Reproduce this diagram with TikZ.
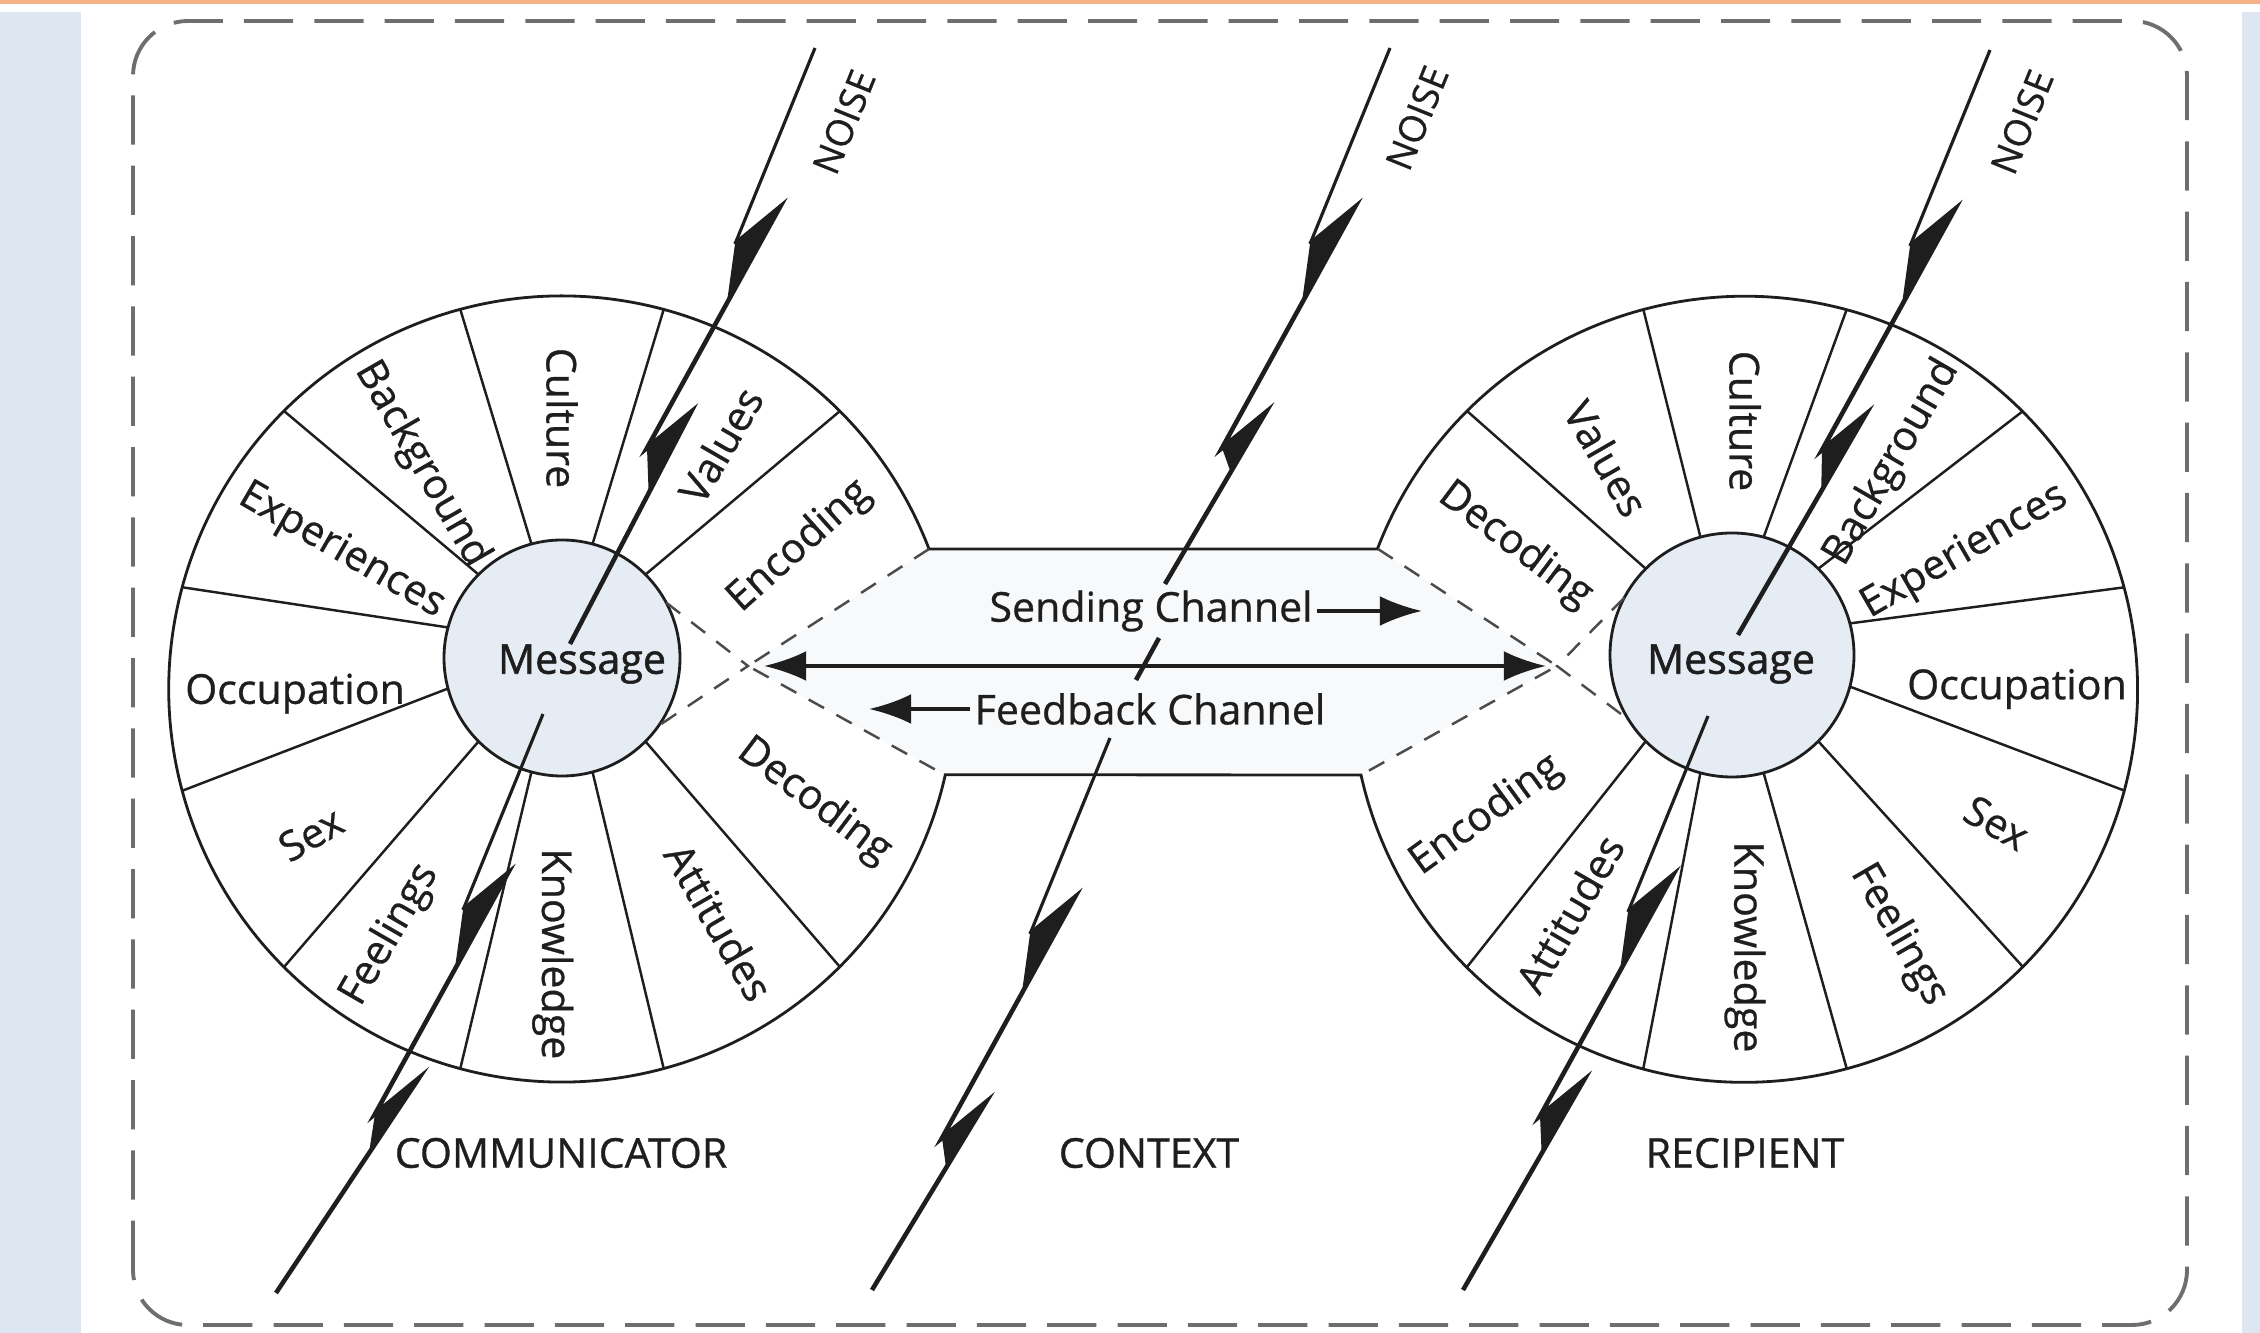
\documentclass[tikz,border=0pt]{standalone}
\usepackage{fontspec}
\setmainfont{Open Sans}
\newfontfamily\labelfont{Open Sans}[FakeBold=0.7]
\newfontfamily\msgfont{Open Sans}[FakeBold=1.4]
\usetikzlibrary{calc,arrows.meta}
\definecolor{panelBlue}{RGB}{222,230,241}
\definecolor{barOrange}{RGB}{244,177,131}
\definecolor{frameGray}{RGB}{110,110,110}
\definecolor{msgTint}{RGB}{230,236,243}
\definecolor{chanTint}{RGB}{248,249,251}
\definecolor{ink}{RGB}{30,30,30}

% lightning bolt from #1 down to #2, two notches near the top
\newcommand{\noisebolt}[2]{%
  \path (#1) ++(-80,-196) coordinate (bA)
        (#1) ++(-35,-159) coordinate (bB)
        (#1) ++(-168,-400) coordinate (bC)
        (#1) ++(-124,-364) coordinate (bD);
  \fill[ink] (bA) -- (bB) -- ($(bB)!.4!(bC)$) -- cycle;
  \fill[ink] (bC) -- (bD) -- ($(bD)!.35!(#2)$) -- cycle;
  \draw[ink, line width=0.9pt] (#1) -- (bA);
  \draw[bolt] (bA) -- (bB) -- (bC) -- (bD) -- (#2);
}

\begin{document}
\begin{tikzpicture}[x=0.01cm, y=0.01cm,
    wheel/.style={draw=ink, line width=0.8pt},
    spoke/.style={draw=ink, line width=0.7pt},
    lbl/.style={font=\labelfont\fontsize{11.7}{14}\selectfont, text=ink, inner sep=1pt},
    cone/.style={draw=ink!80, line width=0.7pt, dash pattern=on 5pt off 4pt},
    chanarrow/.style={draw=ink, line width=1pt, -{Latex[length=12pt, width=8.5pt]}},
    bolt/.style={draw=ink, line width=1.3pt, line join=miter},
    noiselbl/.style={font=\labelfont\fontsize{10.5}{12}\selectfont, text=ink, rotate=68, inner sep=0pt}]
  \useasboundingbox (0,0) rectangle (2260,1333);
  % page strips
  \fill[barOrange] (0,1329) rectangle (2260,1333);
  \fill[panelBlue] (0,0) rectangle (81,1321);
  \fill[panelBlue] (2242,0) rectangle (2260,1321);
  % dashed frame
  \draw[frameGray, line width=1.1pt, dash pattern=on 14pt off 6pt, rounded corners=0.55cm]
    (133,8) rectangle (2187,1312);

  % wheel centres, channel corners, cone tips
  \coordinate (lo) at (562,644);
  \coordinate (lm) at (562,675);
  \coordinate (ro) at (1745,644);
  \coordinate (rm) at (1732,678);
  \coordinate (ctl) at (929,784);
  \coordinate (cbl) at (945,558);
  \coordinate (ctr) at (1378,784);
  \coordinate (cbr) at (1361,558);
  \coordinate (ltip) at (748,667);
  \coordinate (rtip) at (1557,667);

  \fill[chanTint] (ltip) -- (ctl) -- (ctr) -- (rtip) -- (cbr) -- (cbl) -- cycle;
  % both rims joined by the channel
  \draw[wheel] (ctl) arc[start angle=20.87, end angle=347.4, radius=393] -- (cbr)
    arc[start angle=-167.4, end angle=159.1, radius=393] -- cycle;

  \foreach \a in {45,75,...,315}
    \draw[spoke] ($(lm)+(\a:118)$) -- ($(lo)+(\a:393)$);
  \foreach \a in {135,105,...,-135}
    \draw[spoke] ($(rm)+(\a:122)$) -- ($(ro)+(\a:393)$);

  \draw[wheel, fill=msgTint] (lm) circle[radius=118];
  \draw[wheel, fill=msgTint] (rm) circle[radius=122];

  \draw[cone] ($(lm)+(28:118)$) -- (ltip) -- ($(lm)+(-35:118)$);
  \draw[cone] (ctl) -- (ltip) -- (cbl);
  \draw[cone] ($(rm)+(152:122)$) -- (rtip) -- ($(rm)+(212:122)$);
  \draw[cone] (ctr) -- (rtip) -- (cbr);

  % sector labels: angle/radius/rotation/text
  \foreach \a/\r/\t/\w in {90/271/-90/Culture, 57/291/60/Values, 31/277/42/Encoding,
      122/265/-60/Background, 148/260/-30/Experiences, 181/267/0/Occupation,
      210/290/30/Sex, 235/300/60/Feelings, 268/265/-90/Knowledge,
      304/281/-60/Attitudes, 336/276/-37/Decoding}
    \node[lbl, rotate=\t] (com-\w) at ($(lo)+(\a:\r)$) {\w};
  \foreach \a/\r/\t/\w in {90/268/-90/Culture, 121/269/-60/Values, 148/271/-37/Decoding,
      57/270/60/Background, 32/259/30/Experiences, 0/272/0/Occupation,
      -28/285/-30/Sex, -58/290/-60/Feelings, -90/258/-90/Knowledge,
      232/285/60/Attitudes, 206/288/36/Encoding}
    \node[lbl, rotate=\t] (rec-\w) at ($(ro)+(\a:\r)$) {\w};

  \node[lbl, font=\msgfont\fontsize{11.7}{14}\selectfont] (lmsg) at (582,669) {Message};
  \node[lbl, font=\msgfont\fontsize{11.7}{14}\selectfont] (rmsg) at (1731,669) {Message};

  % channels
  \coordinate (lend) at (764,667);
  \coordinate (rend) at (1546,667);
  \draw[chanarrow, {Latex[length=12pt, width=8.5pt]}-{Latex[length=12pt, width=8.5pt]}] (lend) -- (rend);
  \node[lbl] (send) at (1151,722) {Sending Channel};
  \coordinate (sendtip) at (1422,722);
  \draw[chanarrow] (send.east) -- (sendtip);
  \node[lbl] (feed) at (1150,624) {Feedback Channel};
  \coordinate (feedtip) at (869,624);
  \draw[chanarrow] (feed.west) -- (feedtip);

  \node[lbl] (comm) at (561,180) {COMMUNICATOR};
  \node[lbl] (ctx) at (1149,180) {CONTEXT};
  \node[lbl] (recp) at (1745,180) {RECIPIENT};

  % noise bolts
  \coordinate (n1a) at (815,1285); \coordinate (n1b) at (570,689);
  \coordinate (n1c) at (543,619);  \coordinate (n1d) at (276,40);
  \coordinate (n2a) at (1390,1285); \coordinate (n2b) at (1165,749);
  \coordinate (n2c) at (1110,595);  \coordinate (n2d) at (872,43);
  \coordinate (n2e) at (1159,695);  \coordinate (n2f) at (1136,653);
  \coordinate (n3a) at (1990,1283); \coordinate (n3b) at (1738,698);
  \coordinate (n3c) at (1708,617);  \coordinate (n3d) at (1463,43);
  \noisebolt{n1a}{n1b}
  \noisebolt{n1c}{n1d}
  \noisebolt{n2a}{n2b}
  \noisebolt{n2c}{n2d}
  \noisebolt{n3a}{n3b}
  \noisebolt{n3c}{n3d}
  \draw[bolt] (n2e) -- (n2f);
  \node[noiselbl] (noise1) at (844,1211) {NOISE};
  \node[noiselbl] (noise2) at (1417,1215) {NOISE};
  \node[noiselbl] (noise3) at (2022,1211) {NOISE};
\end{tikzpicture}
\end{document}
